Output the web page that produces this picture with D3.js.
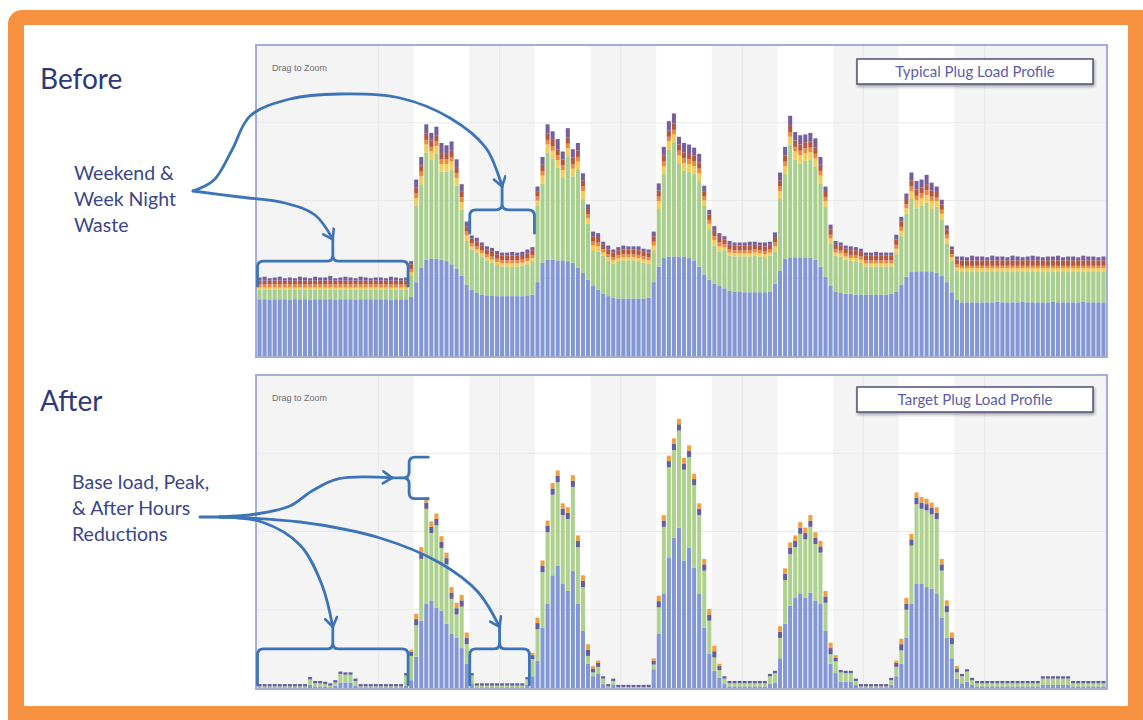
<!DOCTYPE html>
<html>
<head>
<meta charset="utf-8">
<script src="https://cdn.jsdelivr.net/npm/d3@7/dist/d3.min.js"></script>
<style>
  body { margin: 0; background: #fff; }
  svg { display: block; font-family: Lato, "Open Sans", sans-serif; }
</style>
</head>
<body>
<div id="chart"></div>
<script>
// one week of hourly readings, Sunday 00:00 .. Saturday 23:00
const hours = d3.range(168);
const workDays = [1, 2, 3, 4, 5];
const workHours = [7, 18];
const yTicks = [10, 20, 30];

// Before - typical plug load profile (kW)
const beforeBlue = [
  7.3,7.3,7.2,7.3,7.3,7.3,7.2,7.3,7.3,7.3,7.2,7.3,7.3,7.3,7.3,7.2,7.3,7.3,7.3,7.2,7.3,7.3,7.3,7.3,
  7.3,7.3,7.2,7.3,7.3,7.3,7.6,9.5,11.4,12.4,12.5,12.5,12.4,12.2,11.8,11.2,10.3,9.2,8.5,8.1,7.9,7.8,7.8,7.7,
  7.7,7.7,7.7,7.7,7.7,7.8,7.9,9.5,12.0,12.4,12.4,12.3,12.3,12.2,12.0,11.4,10.7,9.8,9.0,8.5,8.0,7.7,7.5,7.4,
  7.4,7.4,7.4,7.4,7.4,7.5,9.5,11.5,12.6,12.8,12.8,12.8,12.8,12.6,12.3,11.5,10.5,9.8,9.3,9.0,8.7,8.4,8.3,8.3,
  8.2,8.2,8.2,8.2,8.2,8.3,9.3,11.0,12.5,12.7,12.7,12.7,12.7,12.6,12.4,11.5,10.2,9.0,8.3,8.1,8.0,8.0,7.9,7.9,
  7.9,7.9,7.9,7.9,7.9,8.0,8.3,9.2,10.2,10.8,10.9,10.9,10.9,10.9,10.7,10.3,9.5,8.2,7.2,6.9,6.9,6.9,6.9,6.9,
  6.9,6.9,7.0,6.9,6.9,6.9,6.9,7.0,6.9,6.9,6.9,6.9,6.9,7.0,6.9,6.9,6.9,6.9,6.9,7.0,6.9,6.9,6.9,6.9
];
const beforeGreen = [
  1.2,1.2,1.3,1.2,1.2,1.2,1.3,1.2,1.2,1.2,1.3,1.2,1.2,1.2,1.2,1.3,1.2,1.2,1.2,1.3,1.2,1.2,1.2,1.2,
  1.2,1.2,1.3,1.2,1.2,1.2,2.8,9.8,10.7,13.8,12.8,13.5,11.3,11.5,12.2,10.7,8.5,5.6,5.2,5.2,4.9,4.5,4.2,4.0,
  3.8,3.8,3.8,3.8,3.9,4.0,4.3,9.8,10.2,13.8,13.0,11.9,10.6,13.5,11.1,12.6,9.5,7.2,4.5,4.9,4.9,4.6,4.4,4.8,
  4.9,4.9,4.9,4.8,4.6,4.4,4.0,7.4,10.8,13.8,14.7,12.0,11.0,11.1,11.1,11.0,8.8,6.5,4.9,4.4,4.9,4.5,4.5,4.5,
  4.6,4.6,4.7,4.6,4.5,4.6,4.1,9.2,10.9,14.5,12.6,12.1,12.4,12.6,12.0,10.7,9.0,5.4,4.6,4.7,4.4,4.2,4.3,4.1,
  3.6,3.6,3.6,3.6,3.6,3.5,4.8,6.2,8.1,9.4,8.1,8.4,8.8,8.0,8.5,7.3,4.9,4.1,3.8,4.0,4.0,4.0,4.0,4.0,
  4.0,4.0,3.9,4.0,4.0,4.0,4.0,3.9,4.0,4.0,4.0,4.0,4.0,3.9,4.0,4.0,4.0,4.0,4.0,3.9,4.0,4.0,4.0,4.0
];
const beforeYellow = [
  .3,.3,.3,.3,.3,.3,.3,.3,.3,.3,.3,.3,.3,.3,.3,.3,.3,.3,.3,.3,.3,.3,.3,.3,
  .3,.3,.3,.3,.3,.3,.4,1,1,1,1,1,1,1,1,1,1,.7,.4,.4,.4,.4,.4,.4,
  .4,.4,.4,.4,.4,.4,.4,.7,1,1,1,1,1,1,1,1,1,.7,.7,.7,.4,.4,.4,.4,
  .4,.4,.4,.4,.4,.4,.7,1,1,1,1,1,1,1,1,1,.7,.7,.7,.7,.4,.4,.4,.4,
  .4,.4,.4,.4,.4,.4,.7,1,1,1,1,1,1,1,1,1,.7,.7,.4,.4,.4,.4,.4,.4,
  .4,.4,.4,.4,.4,.4,.7,.7,.7,1,1,1,1,1,.7,.7,.7,.4,.4,.4,.4,.4,.4,.4,
  .4,.4,.4,.4,.4,.4,.4,.4,.4,.4,.4,.4,.4,.4,.4,.4,.4,.4,.4,.4,.4,.4,.4,.4
];
const beforeOrange = [
  .4,.4,.4,.4,.4,.4,.4,.4,.4,.4,.4,.4,.4,.4,.4,.4,.4,.4,.4,.4,.4,.4,.4,.4,
  .4,.4,.4,.4,.4,.4,.4,.6,.6,.6,.6,.6,.6,.6,.6,.6,.6,.5,.4,.4,.4,.4,.4,.4,
  .4,.4,.4,.4,.4,.4,.4,.5,.6,.6,.6,.6,.6,.6,.6,.6,.6,.5,.5,.5,.4,.4,.4,.4,
  .4,.4,.4,.4,.4,.4,.5,.6,.6,.6,.6,.6,.6,.6,.6,.6,.5,.5,.5,.5,.4,.4,.4,.4,
  .4,.4,.4,.4,.4,.4,.5,.6,.6,.6,.6,.6,.6,.6,.6,.6,.5,.5,.4,.4,.4,.4,.4,.4,
  .4,.4,.4,.4,.4,.4,.5,.5,.5,.6,.6,.6,.6,.6,.5,.5,.5,.4,.4,.3,.3,.3,.3,.3,
  .3,.3,.3,.3,.3,.3,.3,.3,.3,.3,.3,.3,.3,.3,.3,.3,.3,.3,.3,.3,.3,.3,.3,.3
];
const beforeRed = [
  .5,.5,.5,.5,.5,.5,.5,.5,.5,.5,.5,.5,.5,.5,.5,.5,.5,.5,.5,.5,.5,.5,.5,.5,
  .5,.5,.5,.5,.5,.5,.6,.8,.8,.8,.8,.8,.8,.8,.8,.8,.8,.7,.6,.6,.6,.6,.6,.6,
  .6,.6,.6,.6,.6,.6,.6,.7,.8,.8,.8,.8,.8,.8,.8,.8,.8,.7,.7,.7,.6,.6,.6,.6,
  .6,.6,.6,.6,.6,.6,.7,.8,.8,.8,.8,.8,.8,.8,.8,.8,.7,.7,.7,.7,.6,.6,.6,.6,
  .6,.6,.6,.6,.6,.6,.7,.8,.8,.8,.8,.8,.8,.8,.8,.8,.7,.7,.6,.6,.6,.6,.6,.6,
  .6,.6,.6,.6,.6,.6,.7,.7,.7,.8,.8,.8,.8,.8,.7,.7,.7,.6,.6,.7,.7,.7,.7,.7,
  .7,.7,.7,.7,.7,.7,.7,.7,.7,.7,.7,.7,.7,.7,.7,.7,.7,.7,.7,.7,.7,.7,.7,.7
];
const beforePurple = [
  .4,.5,.3,.4,.5,.3,.4,.3,.5,.4,.3,.5,.4,.4,.6,.3,.4,.5,.4,.3,.5,.4,.3,.4,
  .4,.3,.5,.4,.3,.4,.4,1.0,1.1,1.2,1.0,1.1,1.3,1.0,1.2,1.0,0.9,.6,.4,.5,.4,.4,.5,.4,
  .4,.4,.5,.4,.4,.5,.4,.6,1.0,1.2,1.1,1.3,1.0,1.2,1.1,1.0,0.9,.6,.6,.5,.4,.5,.4,.4,
  .5,.4,.4,.5,.4,.4,.6,0.9,1.1,1.2,1.3,1.0,1.2,1.1,1.0,1.1,.7,.6,.6,.5,.4,.5,.4,.4,
  .4,.5,.4,.4,.5,.4,.6,1.0,1.1,1.3,1.1,1.2,1.0,1.1,1.2,1.0,.7,.6,.5,.4,.4,.5,.4,.4,
  .4,.4,.5,.4,.4,.4,.6,.6,.7,1.0,1.1,1.0,1.2,1.0,.7,.6,.5,.4,.4,.5,.4,.6,.5,.5,
  .4,.6,.5,.5,.4,.6,.5,.4,.5,.6,.5,.4,.5,.5,.6,.4,.5,.5,.4,.6,.5,.5,.4,.5
];

// After - target plug load profile (kW)
const afterBlue = [
  .1,.1,.1,.1,.1,.1,.1,.1,.1,.1,.4,.2,.2,.2,.1,.3,.7,.7,.7,.3,.1,.1,.1,.1,
  .1,.1,.1,.1,.1,.3,1.0,4.0,8.6,10.8,11.2,10.3,9.9,8.2,6.9,6.4,5.1,3.1,.6,.1,.1,.1,.1,.1,
  .1,.1,.1,.1,.1,.4,1.5,3.5,7.7,10.8,14.4,15.6,13.3,12.4,15.0,10.8,7.3,3.1,1.5,1.8,.5,.1,.4,0,
  0,0,0,0,0,0,2.4,6.9,12.1,16.7,19.2,20.5,16.3,17.9,15.4,12.1,7.7,4.4,2.2,1.3,.5,.2,.2,.2,
  .2,.2,.2,.2,.2,.5,.7,3.8,8.2,10.5,11.5,12.1,11.5,12.2,11.2,10.8,7.3,3.1,1.9,.8,.8,.8,.4,.1,
  .1,.1,.1,.1,.1,.4,1.5,3.1,6.4,10.8,13.3,13.3,12.9,12.7,12.1,9.0,6.4,3.8,1.2,.6,.8,.4,.2,.2,
  .2,.2,.2,.2,.2,.2,.2,.2,.2,.2,.2,.4,.4,.4,.4,.4,.4,.2,.2,.2,.2,.2,.2,.2
];
const afterGreen = [
  .1,.1,.1,.1,.1,.1,.1,.1,.1,.1,.7,.4,.4,.3,.2,.4,1.1,1.0,1.0,.6,.1,.1,.1,.1,
  .1,.1,.1,.1,.1,1.3,3.1,4.0,7.9,12.1,8.6,10.5,8.0,7.6,4.5,3.0,5.3,2.5,1.0,.2,.2,.2,.2,.2,
  .2,.2,.2,.2,.2,.7,2.2,4.0,7.1,9.1,10.3,10.7,8.8,9.2,10.7,7.2,5.6,1.0,.5,.9,.7,.1,.5,.1,
  .1,.1,.1,.1,.1,.1,.6,3.4,8.5,11.5,11.2,12.4,11.6,11.6,10.5,10.0,7.3,4.2,1.7,1.0,.7,.4,.4,.4,
  .4,.4,.4,.4,.4,1.0,1.2,2.6,5.6,6.6,6.5,7.6,7.5,8.4,7.2,6.5,3.6,1.2,1.5,1.2,1.1,1.1,.5,.1,
  .1,.1,.1,.1,.1,.6,1.2,1.7,3.6,7.4,10.2,9.6,9.8,9.5,9.5,6.0,3.3,1.8,.8,.9,1.3,.6,.4,.4,
  .4,.4,.4,.4,.4,.4,.4,.4,.4,.4,.4,.8,.8,.8,.8,.8,.8,.4,.4,.4,.4,.4,.4,.4
];
const afterPurple = [
  .3,.3,.3,.3,.3,.3,.3,.3,.3,.3,.3,.3,.3,.3,.3,.3,.3,.3,.3,.3,.3,.3,.3,.3,
  .3,.3,.3,.3,.3,.3,.5,.8,.8,.8,.8,.8,.8,.8,.8,.8,.8,.8,.3,.3,.3,.3,.3,.3,
  .3,.3,.3,.3,.3,.3,.5,.8,.8,.8,.8,.8,.8,.8,.8,.8,.8,.8,.5,.5,.3,.3,.3,.3,
  .3,.3,.3,.3,.3,.3,.5,.8,.8,.8,.8,.8,.8,.8,.8,.8,.8,.8,.8,.5,.3,.3,.3,.3,
  .3,.3,.3,.3,.3,.3,.3,.8,.8,.8,.8,.8,.8,.8,.8,.8,.8,.8,.5,.3,.3,.3,.3,.3,
  .3,.3,.3,.3,.3,.3,.5,.8,.8,.8,.8,.8,.8,.8,.8,.8,.8,.8,.5,.3,.3,.3,.3,.3,
  .3,.3,.3,.3,.3,.3,.3,.3,.3,.3,.3,.3,.3,.3,.3,.3,.3,.3,.3,.3,.3,.3,.3,.3
];
const afterOrange = [
  0,0,0,0,0,0,0,0,0,0,0,0,0,0,0,0,0,0,0,0,0,0,0,0,
  0,0,0,0,0,0,.3,.7,.7,.7,.7,.7,.7,.7,.7,.7,.7,.7,0,0,0,0,0,0,
  0,0,0,0,0,0,.3,.7,.7,.7,.7,.7,.7,.7,.7,.7,.7,.7,.3,.3,0,0,0,0,
  0,0,0,0,0,0,.3,.7,.7,.7,.7,.7,.7,.7,.7,.7,.7,.7,.7,.3,0,0,0,0,
  0,0,0,0,0,0,0,.7,.7,.7,.7,.7,.7,.7,.7,.7,.7,.7,.3,0,0,0,0,0,
  0,0,0,0,0,0,.3,.7,.7,.7,.7,.7,.7,.7,.7,.7,.7,.7,.3,0,0,0,0,0,
  0,0,0,0,0,0,0,0,0,0,0,0,0,0,0,0,0,0,0,0,0,0,0,0
];

const svg = d3.select("#chart").append("svg")
  .attr("width", 1143)
  .attr("height", 720);

const defs = svg.append("defs");
defs.append("marker")
  .attr("id", "arrow")
  .attr("markerUnits", "userSpaceOnUse")
  .attr("markerWidth", 16).attr("markerHeight", 16)
  .attr("refX", 11).attr("refY", 7)
  .attr("orient", "auto")
  .append("path")
  .attr("d", "M2,1 L11,7 L2,13")
  .attr("fill", "none")
  .attr("stroke", "#3d73b7")
  .attr("stroke-width", 2.6)
  .attr("stroke-linecap", "round");
const shadow = defs.append("filter").attr("id", "shadow")
  .attr("x", "-10%").attr("y", "-30%").attr("width", "120%").attr("height", "170%");
shadow.append("feDropShadow").attr("dx", 1).attr("dy", 2).attr("stdDeviation", 1.5)
  .attr("flood-color", "#000").attr("flood-opacity", 0.35);

// orange frame
svg.append("rect").attr("x", 8).attr("y", 10).attr("width", 1160).attr("height", 740)
  .attr("rx", 14).attr("fill", "#f6923f");
svg.append("rect").attr("x", 24).attr("y", 25).attr("width", 1104).attr("height", 681)
  .attr("fill", "#fff");

function drawPanel(p) {
  const x = d3.scaleBand().domain(hours)
    .range([p.left + 1, p.right - 1])
    .paddingInner(0.2).paddingOuter(0.1);
  const y = d3.scaleLinear().domain([0, 40]).range([p.bottom - 1, p.top]);
  const step = x.step();
  const half = (step - x.bandwidth()) / 2;
  const g = svg.append("g");

  g.append("rect")
    .attr("x", p.left).attr("y", p.top)
    .attr("width", p.right - p.left).attr("height", p.bottom - p.top)
    .attr("fill", "#f4f4f4");

  // office hours are white
  g.selectAll("rect.day").data(workDays).join("rect")
    .attr("class", "day")
    .attr("x", d => x(d * 24 + workHours[0]) - half)
    .attr("y", p.top)
    .attr("width", (workHours[1] - workHours[0]) * step)
    .attr("height", p.bottom - p.top)
    .attr("fill", "#fff");

  g.selectAll("line.h").data(yTicks).join("line")
    .attr("class", "h")
    .attr("x1", p.left).attr("x2", p.right)
    .attr("y1", d => y(d)).attr("y2", d => y(d))
    .attr("stroke", "#e8e8e8");

  g.selectAll("line.v").data(hours.filter(h => h > 0 && h % 24 === 0)).join("line")
    .attr("class", "v")
    .attr("x1", d => x(d) - half).attr("x2", d => x(d) - half)
    .attr("y1", p.top).attr("y2", p.bottom)
    .attr("stroke", "#e5e5e5");

  const rows = hours.map(h => {
    const r = { hour: h };
    p.layers.forEach(l => { r[l.key] = l.values[h]; });
    return r;
  });
  const series = d3.stack().keys(p.layers.map(l => l.key))(rows);
  const colorOf = Object.fromEntries(p.layers.map(l => [l.key, l.color]));

  g.selectAll("g.layer").data(series).join("g")
    .attr("class", "layer")
    .attr("fill", s => colorOf[s.key])
    .selectAll("rect").data(s => s).join("rect")
    .attr("x", d => x(d.data.hour))
    .attr("width", x.bandwidth())
    .attr("y", d => y(d[1]))
    .attr("height", d => Math.max(0, y(d[0]) - y(d[1])));

  g.append("rect")
    .attr("x", p.left).attr("y", p.top)
    .attr("width", p.right - p.left).attr("height", p.bottom - p.top)
    .attr("fill", "none")
    .attr("stroke", "#a6acd4")
    .attr("stroke-width", 2);

  g.append("text")
    .attr("x", p.left + 16).attr("y", p.top + 26)
    .attr("font-family", "Liberation Sans, Arial, sans-serif")
    .attr("font-size", 9)
    .attr("fill", "#6e6e6e")
    .text("Drag to Zoom");

  const lg = g.append("g").attr("transform", `translate(${p.legendX},${p.top + p.legendDy})`);
  lg.append("rect")
    .attr("width", 236).attr("height", 25)
    .attr("fill", "#fff")
    .attr("stroke", "#4c5078")
    .attr("stroke-width", 1.5)
    .attr("filter", "url(#shadow)");
  lg.append("text")
    .attr("x", 118).attr("y", 18)
    .attr("text-anchor", "middle")
    .attr("font-size", 15)
    .attr("fill", "#5b5ea7")
    .text(p.legend);

  return { x, y, bw: x.bandwidth() };
}

const before = drawPanel({
  left: 256, right: 1107, top: 45, bottom: 357,
  legendX: 857, legendDy: 14, legend: "Typical Plug Load Profile",
  layers: [
    { key: "blue", values: beforeBlue, color: "#8297d3" },
    { key: "green", values: beforeGreen, color: "#a8cf8b" },
    { key: "yellow", values: beforeYellow, color: "#f2cd5b" },
    { key: "orange", values: beforeOrange, color: "#e98b3f" },
    { key: "red", values: beforeRed, color: "#b4573f" },
    { key: "purple", values: beforePurple, color: "#76609c" }
  ]
});

const after = drawPanel({
  left: 256, right: 1107, top: 375, bottom: 689,
  legendX: 857, legendDy: 12, legend: "Target Plug Load Profile",
  layers: [
    { key: "blue", values: afterBlue, color: "#8297d3" },
    { key: "green", values: afterGreen, color: "#aed18e" },
    { key: "purple", values: afterPurple, color: "#635f9e" },
    { key: "orange", values: afterOrange, color: "#f0a043" }
  ]
});

// titles and notes
const ink = "#2e3979";
svg.append("text").attr("x", 40).attr("y", 89)
  .attr("font-size", 28).attr("fill", ink).text("Before");
svg.append("text").attr("x", 40).attr("y", 411)
  .attr("font-size", 28).attr("fill", ink).text("After");

function note(lines, x0, y0) {
  svg.append("g").selectAll("text").data(lines).join("text")
    .attr("x", x0).attr("y", (d, i) => y0 + i * 26)
    .attr("font-size", 19.5).attr("fill", "#3a4688")
    .text(d => d);
}
note(["Weekend &", "Week Night", "Waste"], 74, 180);
note(["Base load, Peak,", "& After Hours", "Reductions"], 72, 489);

// annotation arrows and brackets
const ann = svg.append("g")
  .attr("fill", "none")
  .attr("stroke", "#3d73b7")
  .attr("stroke-width", 2.8)
  .attr("stroke-linecap", "round")
  .attr("stroke-linejoin", "round");
const curve = d3.line().curve(d3.curveCatmullRom.alpha(0.5));
const r = 6;

function hBracket(x0, x1, yLine, yEnd, tipY) {
  const xm = (x0 + x1) / 2;
  return `M${x0},${yEnd} L${x0},${yLine + r} Q${x0},${yLine} ${x0 + r},${yLine} ` +
    `L${xm - r},${yLine} Q${xm},${yLine} ${xm},${yLine - r} L${xm},${tipY} ` +
    `M${xm},${yLine - r} Q${xm},${yLine} ${xm + r},${yLine} ` +
    `L${x1 - r},${yLine} Q${x1},${yLine} ${x1},${yLine + r} L${x1},${yEnd}`;
}
function vBracket(xv, yTop, yBot, xEnd, tipX) {
  const ym = (yTop + yBot) / 2;
  return `M${xEnd},${yTop} L${xv + r},${yTop} Q${xv},${yTop} ${xv},${yTop + r} ` +
    `L${xv},${ym - r} Q${xv},${ym} ${xv - r},${ym} L${tipX},${ym} ` +
    `M${xv - r},${ym} Q${xv},${ym} ${xv},${ym + r} ` +
    `L${xv},${yBot - r} Q${xv},${yBot} ${xv + r},${yBot} L${xEnd},${yBot}`;
}
function arrow(points) {
  ann.append("path").attr("d", curve(points)).attr("marker-end", "url(#arrow)");
}

// Before
{
  const { x, y, bw } = before;
  const wkX0 = x(0), wkX1 = x(29) + bw, wkM = (wkX0 + wkX1) / 2;
  const tip1 = y(15.0);
  ann.append("path").attr("d", hBracket(wkX0, wkX1, y(12.2), y(9.0), tip1));
  const nX0 = x(42), nX1 = x(54) + bw, nM = (nX0 + nX1) / 2;
  const tip2 = y(21.8);
  ann.append("path").attr("d", hBracket(nX0, nX1, y(18.8), y(15.8), tip2));
  const a = [193, 191];
  arrow([a, [214, 180], [232, 150], [250, 116], [290, 99], [340, 94], [400, 98],
    [450, 118], [486, 148], [nM, tip2]]);
  arrow([a, [240, 197], [285, 203], [315, 215], [wkM, tip1]]);
}

// After
{
  const { x, y, bw } = after;
  const wkX0 = x(0), wkX1 = x(29) + bw, wkM = (wkX0 + wkX1) / 2;
  const nX0 = x(42), nX1 = x(53) + bw, nM = (nX0 + nX1) / 2;
  const tip = y(7.8);
  ann.append("path").attr("d", hBracket(wkX0, wkX1, y(5.0), y(0.4), tip));
  ann.append("path").attr("d", hBracket(nX0, nX1, y(5.0), y(0.4), tip));
  const xv = x(30), yTop = y(29.5), yBot = y(24.2), ym = (yTop + yBot) / 2;
  const tipX = xv - 17;
  ann.append("path").attr("d", vBracket(xv, yTop, yBot, x(33) + bw, tipX));
  const a = [220, 517];
  ann.append("path").attr("d", curve([[200, 517], a]));
  arrow([a, [256, 514], [290, 506], [312, 491], [338, ym + 1], [tipX, ym]]);
  arrow([a, [262, 522], [300, 545], [322, 585], [wkM, tip]]);
  arrow([a, [300, 522], [380, 538], [440, 563], [478, 592], [nM, tip]]);
}
</script>
</body>
</html>
